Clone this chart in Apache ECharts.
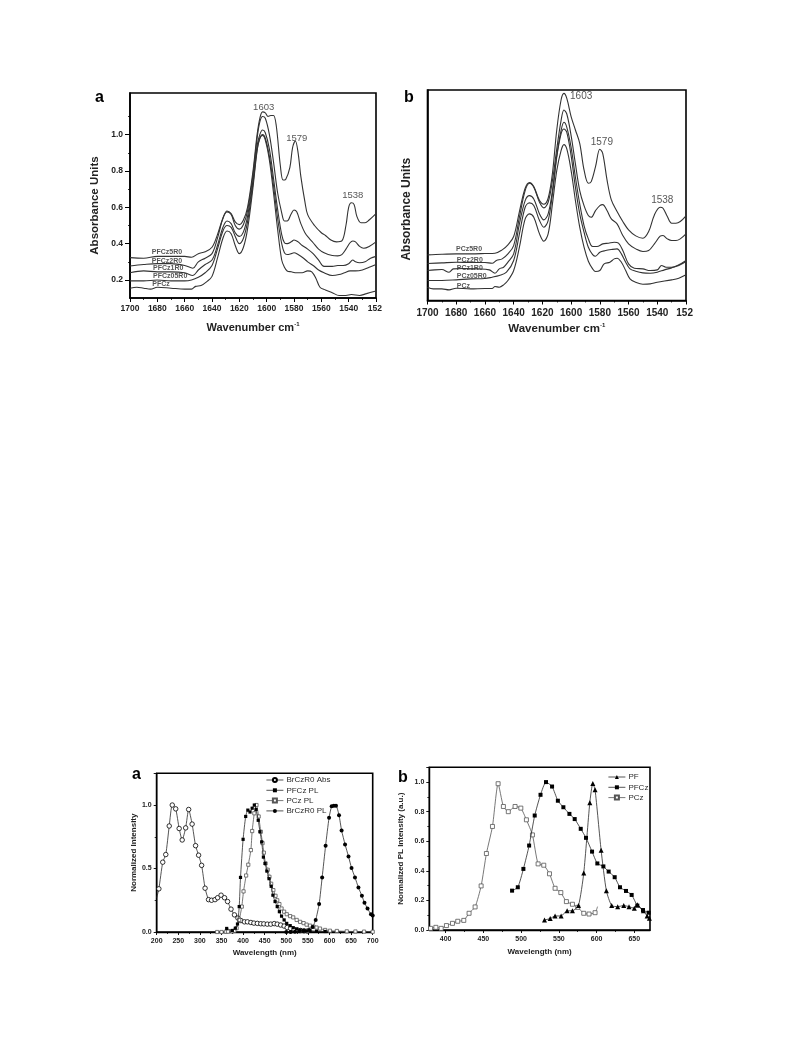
<!DOCTYPE html>
<html><head><meta charset="utf-8">
<style>html,body{margin:0;padding:0;background:#fff}#c{width:793px;height:1057px}</style>
<script src="https://cdn.jsdelivr.net/npm/echarts@6/dist/echarts.min.js"></script>
</head><body><div id="c"></div>
<script>
// ---- FTIR panel a
const irA5=[[1700,.323],[1690,.32],[1680,.33],[1670,.33],[1660,.33],[1655,.325],[1650,.345],[1645,.355],[1640,.38],[1636,.45],[1632,.54],[1629,.58],[1626,.565],[1623,.52],[1620,.505],[1617,.53],[1614,.60],[1610,.80],[1607,1.0],[1605,1.09],[1603,1.125],[1601,1.12],[1599,1.10],[1597,1.105],[1595,1.105],[1593,1.05],[1590,.83],[1588,.75],[1586,.755],[1583,.82],[1581,.93],[1579,.965],[1577,.9],[1575,.77],[1572,.63],[1570,.56],[1565,.50],[1560,.46],[1557,.445],[1553,.42],[1549,.41],[1545,.415],[1542,.50],[1540,.60],[1538,.625],[1536,.615],[1534,.55],[1531,.515],[1528,.515],[1525,.53],[1520,.565]];
const irA2=[[1700,.277],[1690,.285],[1680,.29],[1670,.29],[1660,.28],[1654,.265],[1650,.30],[1645,.32],[1640,.345],[1636,.43],[1632,.54],[1629,.575],[1626,.56],[1623,.50],[1620,.48],[1617,.505],[1614,.58],[1610,.78],[1607,.98],[1605,1.07],[1603,1.10],[1601,1.09],[1598,1.0],[1595,.85],[1592,.68],[1589,.57],[1587,.525],[1585,.525],[1582,.565],[1580,.585],[1578,.575],[1575,.51],[1572,.46],[1569,.43],[1566,.405],[1562,.37],[1558,.35],[1552,.335],[1548,.333],[1545,.34],[1542,.37],[1539,.405],[1537,.415],[1535,.41],[1532,.385],[1529,.375],[1525,.385],[1520,.41]];
const irA1=[[1700,.24],[1690,.25],[1680,.245],[1670,.245],[1660,.24],[1654,.225],[1650,.255],[1645,.285],[1640,.31],[1636,.39],[1632,.49],[1629,.525],[1626,.51],[1623,.46],[1620,.44],[1617,.465],[1614,.55],[1610,.75],[1607,.94],[1605,1.0],[1603,1.025],[1601,1.01],[1598,.92],[1595,.76],[1592,.59],[1589,.45],[1587,.405],[1585,.40],[1582,.41],[1580,.42],[1577,.41],[1574,.39],[1570,.37],[1566,.345],[1562,.31],[1558,.275],[1552,.275],[1548,.28],[1544,.28],[1540,.29],[1537,.31],[1535,.30],[1532,.295],[1528,.30],[1524,.32],[1520,.33]];
const irA05=[[1700,.195],[1690,.195],[1680,.20],[1670,.195],[1660,.195],[1655,.20],[1650,.215],[1645,.24],[1640,.28],[1636,.37],[1632,.47],[1629,.50],[1626,.49],[1623,.44],[1620,.40],[1617,.43],[1614,.52],[1610,.73],[1607,.92],[1605,.98],[1603,1.00],[1601,.98],[1598,.88],[1595,.72],[1592,.54],[1589,.40],[1587,.35],[1585,.34],[1582,.345],[1580,.35],[1577,.34],[1573,.32],[1570,.30],[1566,.28],[1562,.255],[1558,.24],[1552,.225],[1547,.23],[1543,.24],[1539,.25],[1535,.25],[1530,.255],[1525,.27],[1520,.285]];
const irA0=[[1700,.155],[1695,.16],[1690,.155],[1685,.15],[1680,.16],[1670,.155],[1660,.15],[1655,.15],[1652,.165],[1648,.17],[1644,.19],[1640,.22],[1636,.32],[1632,.43],[1629,.47],[1626,.455],[1623,.39],[1620,.345],[1617,.38],[1614,.48],[1610,.71],[1607,.91],[1605,.98],[1603,.995],[1601,.97],[1598,.86],[1595,.68],[1592,.48],[1589,.31],[1587,.27],[1585,.25],[1582,.245],[1578,.24],[1574,.24],[1570,.25],[1567,.245],[1564,.21],[1561,.16],[1557,.145],[1552,.13],[1547,.115],[1542,.115],[1538,.12],[1532,.115],[1527,.125],[1520,.14]];
// ---- FTIR panel b
const irB5=[[1700,1.37],[1690,1.39],[1680,1.40],[1670,1.40],[1660,1.41],[1653,1.42],[1648,1.52],[1644,1.67],[1640,1.92],[1636,2.67],[1632,3.37],[1629,3.54],[1626,3.42],[1622,3.0],[1619,2.89],[1616,3.07],[1613,3.82],[1610,5.12],[1607,6.02],[1605,6.22],[1603,6.07],[1600,5.52],[1597,5.12],[1594,4.72],[1591,3.92],[1588,3.52],[1586,3.57],[1583,4.02],[1580,4.54],[1578,4.42],[1575,3.62],[1572,3.02],[1568,2.67],[1564,2.37],[1560,2.12],[1555,1.94],[1550,1.87],[1546,2.07],[1542,2.57],[1538,2.8],[1536,2.77],[1533,2.52],[1530,2.32],[1527,2.32],[1524,2.37],[1520,2.54]];
const irB2=[[1700,1.11],[1690,1.13],[1680,1.15],[1670,1.14],[1660,1.14],[1655,1.12],[1652,1.2],[1648,1.25],[1644,1.4],[1640,1.65],[1636,2.5],[1632,3.3],[1629,3.52],[1626,3.4],[1622,2.95],[1619,2.78],[1616,2.95],[1613,3.6],[1610,4.55],[1607,5.4],[1605,5.72],[1603,5.6],[1600,4.95],[1597,4.1],[1594,3.3],[1591,2.85],[1588,2.55],[1586,2.5],[1583,2.7],[1580,2.85],[1578,2.88],[1575,2.7],[1572,2.45],[1568,2.3],[1564,1.95],[1560,1.7],[1555,1.55],[1550,1.47],[1546,1.5],[1542,1.7],[1538,1.93],[1536,1.95],[1533,1.85],[1530,1.8],[1527,1.8],[1524,1.85],[1520,2.0]];
const irB1=[[1700,.9],[1695,.92],[1690,.93],[1685,.85],[1682,.95],[1675,.96],[1665,.95],[1657,.92],[1653,.82],[1650,.95],[1647,1.0],[1644,1.15],[1640,1.4],[1636,2.3],[1632,3.0],[1629,3.15],[1626,3.05],[1622,2.6],[1619,2.42],[1616,2.6],[1613,3.3],[1610,4.35],[1607,5.1],[1605,5.35],[1603,5.2],[1600,4.6],[1597,3.7],[1594,2.9],[1591,2.25],[1588,1.85],[1585,1.62],[1582,1.62],[1578,1.7],[1574,1.72],[1570,1.75],[1567,1.72],[1564,1.5],[1560,1.1],[1556,.97],[1550,.95],[1545,.9],[1540,.92],[1537,1.05],[1534,1.0],[1530,1.0],[1525,1.07],[1520,1.2]];
const irB05=[[1700,.6],[1690,.6],[1680,.62],[1670,.65],[1660,.66],[1655,.7],[1650,.75],[1645,.85],[1640,1.2],[1636,2.0],[1632,2.8],[1629,2.93],[1626,2.85],[1622,2.4],[1619,2.2],[1616,2.4],[1613,3.2],[1610,4.3],[1607,5.0],[1605,5.15],[1603,5.05],[1600,4.35],[1597,3.4],[1594,2.6],[1591,2.05],[1588,1.6],[1585,1.38],[1583,1.33],[1580,1.45],[1576,1.5],[1572,1.53],[1568,1.55],[1565,1.4],[1562,1.15],[1559,.95],[1555,.88],[1550,.83],[1545,.82],[1540,.85],[1535,.92],[1530,.98],[1525,1.05],[1520,1.17]];
const irB0=[[1700,.4],[1696,.35],[1690,.35],[1685,.32],[1680,.37],[1670,.35],[1660,.36],[1655,.36],[1653,.42],[1650,.4],[1647,.47],[1644,.6],[1640,.9],[1636,1.6],[1632,2.45],[1629,2.6],[1626,2.5],[1622,2.0],[1619,1.78],[1616,2.0],[1613,2.9],[1610,3.9],[1607,4.5],[1605,4.68],[1603,4.55],[1600,3.9],[1597,3.0],[1594,2.2],[1591,1.6],[1588,1.18],[1585,.95],[1583,.87],[1580,.9],[1577,1.1],[1573,1.15],[1570,1.25],[1568,1.27],[1565,1.15],[1562,.9],[1559,.65],[1555,.55],[1550,.49],[1545,.5],[1540,.55],[1530,.62],[1525,.67],[1520,.77]];
// ---- PL panel a
const brAbs=[[200,.27],[205,.34],[214,.55],[221,.61],[229,.835],[236,1.0],[244,.97],[252,.815],[259,.725],[267,.82],[274,.965],[282,.85],[290,.68],[297,.605],[304,.525],[312,.345],[320,.255],[327,.25],[335,.255],[341,.27],[349,.29],[357,.27],[364,.24],[372,.18],[380,.135],[388,.11],[395,.09],[403,.08],[410,.08],[418,.075],[425,.07],[433,.068],[441,.065],[448,.064],[456,.062],[464,.062],[472,.066],[479,.062],[487,.055],[495,.047],[502,.035],[510,.028],[518,.02],[526,.015],[533,.012],[541,.01],[549,.008]];
const pfczPL=[[362,.028],[375,.012],[382,.03],[387,.063],[391,.2],[394,.43],[400,.73],[406,.91],[411,.96],[416,.945],[421,.975],[426,1.0],[430,.965],[435,.88],[439,.79],[443,.71],[447,.59],[451,.54],[455,.48],[460,.42],[465,.36],[469,.29],[474,.24],[479,.2],[484,.16],[489,.125],[495,.095],[501,.068],[509,.05],[516,.034],[524,.024],[532,.016],[540,.01],[547,.008],[555,.01],[570,.006],[590,.004]];
const pczPL=[[340,0],[350,0],[360,.002],[365,.003],[375,.005],[380,.01],[385,.03],[391,.095],[397,.2],[401,.32],[407,.445],[412,.53],[418,.645],[421,.795],[426,.935],[431,1.0],[436,.91],[441,.79],[445,.70],[448,.625],[452,.54],[457,.49],[461,.435],[465,.38],[470,.33],[475,.285],[479,.25],[484,.22],[489,.185],[495,.16],[501,.14],[509,.125],[516,.115],[524,.095],[532,.08],[540,.07],[547,.058],[555,.05],[563,.042],[570,.035],[578,.027],[590,.016],[601,.01],[617,.008],[640,.005],[660,.004],[680,.003],[700,.002]];
const brPL=[[500,0],[510,0],[520,.002],[530,.005],[540,.008],[553,.015],[561,.04],[568,.095],[576,.22],[583,.43],[591,.68],[599,.9],[605,.99],[610,.995],[615,.995],[622,.92],[628,.8],[636,.69],[644,.595],[651,.505],[659,.43],[667,.35],[675,.285],[681,.23],[688,.185],[696,.14],[700,.13]];
// ---- PL panel b
const pfB=[[531,.068],[538.5,.077],[545,.095],[553,.095],[561,.13],[568,.13],[576,.165],[583,.385],[591,.86],[595,.99],[598,.948],[606,.54],[613,.265],[620,.165],[628,.158],[636,.165],[643,.158],[650,.147],[654,.17],[662,.13],[667,.095],[670,.08]];
const pfczB=[[488,.266],[495.6,.289],[503,.413],[510.6,.571],[518,.774],[525.7,.914],[533,1.0],[541,.97],[548.7,.874],[556,.83],[564,.785],[571,.75],[579,.684],[586,.623],[594,.53],[601,.45],[609,.43],[616,.395],[624,.357],[631,.289],[639,.264],[646.5,.237],[654,.165],[661.5,.135],[669,.117]];
const pczB=[[380,.011],[387,.018],[394,.011],[401,.03],[409,.045],[416,.059],[424,.065],[431,.113],[439,.156],[447,.298],[454,.517],[462,.70],[469.5,.989],[476.5,.835],[483,.80],[492,.835],[499.6,.824],[507,.745],[515,.643],[522.5,.447],[530,.438],[537.6,.38],[545,.282],[552.6,.253],[560,.192],[568,.174],[575,.153],[583,.113],[590,.108],[598,.117],[601.3,.158]];
// ---- tick labels and annotations
const irTicks=['1700','1680','1660','1640','1620','1600','1580','1560','1540','152 '];
const peaksA=[[1602.2,1.152,'1603'],[1578,.98,'1579'],[1537,.667,'1538']];
const peaksB=[[1593,6.12,'1603'],[1578.6,4.75,'1579'],[1536.5,3.0,'1538']];
const tagsA=[[1684.4,.352,'PFCz5R0'],[1684.4,.305,'PFCz2R0'],[1683.5,.264,'PFCz1R0'],[1683.5,.222,'PFCz05R0'],[1684,.176,'PFCz']];
const tagsB=[[1680.5,1.54,'PCz5R0'],[1680,1.2,'PCz2R0'],[1680,.97,'PCz1R0'],[1680,.72,'PCz05R0'],[1680,.42,'PCz']];
const legendA=['BrCzR0 Abs','PFCz PL','PCz PL','BrCzR0 PL'];
const legendB=['PF','PFCz','PCz'];

const F='"Liberation Sans",Arial,sans-serif', INK='#222';
const grids=[
 {left:130,top:93,width:246,height:205},
 {left:427.5,top:90,width:258.5,height:210.5},
 {left:156.7,top:773.3,width:216,height:158.7},
 {left:429.3,top:767.3,width:220.7,height:162.7}
].map(g=>({...g,show:true,borderColor:'#000',borderWidth:1.6,backgroundColor:'transparent'}));

const lab=(size,extra)=>Object.assign({color:INK,fontFamily:F,fontWeight:'bold',fontSize:size},extra||{});
function irX(gridIndex,size,gap,nameSize,margin){return {
  type:'value',gridIndex,inverse:true,min:1520,max:1700,interval:20,position:'bottom',
  name:'{m|Wavenumber cm}{s|-1}',nameLocation:'middle',nameGap:gap,
  nameTextStyle:{rich:{m:lab(nameSize),s:lab(6,{verticalAlign:'top',lineHeight:nameSize+2})}},
  axisLine:{onZero:false,lineStyle:{color:'#000',width:1.6}},
  axisTick:{length:4,lineStyle:{color:'#000',width:1}},
  minorTick:{show:true,splitNumber:2,length:2,lineStyle:{color:'#000',width:.8}},
  splitLine:{show:false},minorSplitLine:{show:false},
  axisLabel:lab(size,{margin,hideOverlap:false,showMinLabel:true,showMaxLabel:true,formatter:v=>irTicks[Math.round((1700-v)/20)]})
};}
function plX(gridIndex,min,max,labels){return {
  type:'value',gridIndex,min,max,position:'bottom',
  name:'Wavelength (nm)',nameLocation:'middle',nameGap:18,nameTextStyle:lab(8),
  axisLine:{onZero:false,lineStyle:{color:'#000',width:1.3}},
  axisTick:{length:3,customValues:labels,lineStyle:{color:'#000',width:.9}},
  axisLabel:lab(7,{margin:6,customValues:labels}),
  splitLine:{show:false}
};}
function minorAxis(kind,gridIndex,min,max,vals){return {
  type:'value',gridIndex,min,max,position:kind==='x'?'bottom':'left',
  axisLine:{show:false},axisLabel:{show:false},splitLine:{show:false},
  axisTick:{length:2,customValues:vals,lineStyle:{color:'#000',width:.8}}
};}
const xAxis=[
 irX(0,8.5,23,11,6),
 irX(1,10,22,11.5,8),
 {...plX(2,200,700,[200,250,300,350,400,450,500,550,600,650,700]),interval:50,nameGap:17,minorTick:{show:true,splitNumber:2,length:2,lineStyle:{color:'#000',width:.8}},axisTick:{length:3,lineStyle:{color:'#000',width:.9}},axisLabel:lab(7,{margin:6})},
 plX(3,378.3,670.8,[400,450,500,550,600,650]),
 minorAxis('x',3,378.3,670.8,[425,475,525,575,625])
];
const yAxis=[
 {type:'value',gridIndex:0,min:.101,max:1.229,name:'Absorbance Units',nameLocation:'middle',nameGap:29,nameRotate:90,
  nameTextStyle:lab(11.5,{padding:[0,20,0,0]}),
  axisLine:{onZero:false,lineStyle:{color:'#000',width:1.6}},
  axisTick:{length:5,customValues:[.2,.4,.6,.8,1.0],lineStyle:{color:'#000',width:1}},
  axisLabel:lab(8.5,{margin:7,customValues:[.2,.4,.6,.8,1.0],formatter:v=>v.toFixed(1)}),splitLine:{show:false}},
 {type:'value',gridIndex:1,min:0,max:6.32,name:'Absorbance Units',nameLocation:'middle',nameGap:15,nameRotate:90,
  nameTextStyle:lab(12,{padding:[0,28,0,0]}),
  axisLine:{onZero:false,lineStyle:{color:'#000',width:1.6}},axisTick:{show:false},axisLabel:{show:false},splitLine:{show:false}},
 {type:'value',gridIndex:2,min:0,max:1.25,interval:.5,name:'Normalized Intensity',nameLocation:'middle',nameGap:17,nameRotate:90,
  nameTextStyle:lab(8),
  axisLine:{onZero:false,lineStyle:{color:'#000',width:1.3}},
  axisTick:{length:3,lineStyle:{color:'#000',width:.9}},
  minorTick:{show:true,splitNumber:2,length:2,lineStyle:{color:'#000',width:.8}},
  axisLabel:lab(7,{margin:5,showMaxLabel:false,formatter:v=>v.toFixed(1)}),splitLine:{show:false}},
 {type:'value',gridIndex:3,min:0,max:1.1,interval:.2,name:'Normalized PL Intensity (a.u.)',nameLocation:'middle',nameGap:25,nameRotate:90,
  nameTextStyle:lab(8),
  axisLine:{onZero:false,lineStyle:{color:'#000',width:1.3}},
  axisTick:{length:3,lineStyle:{color:'#000',width:.9}},
  minorTick:{show:true,splitNumber:2,length:2,lineStyle:{color:'#000',width:.8}},
  axisLabel:lab(7,{margin:5,showMaxLabel:false,formatter:v=>v.toFixed(1)}),splitLine:{show:false}},
 minorAxis('y',0,.101,1.229,[.3,.5,.7,.9,1.1])
];

const irLine=(name,data,i)=>({type:'line',name,xAxisIndex:i,yAxisIndex:i,data,smooth:.35,symbol:'none',silent:true,
  lineStyle:{color:'#333',width:1.1},z:2});
function notes(arr,i,style,pos){return {type:'scatter',name:'notes'+i+pos,xAxisIndex:i,yAxisIndex:i,silent:true,symbolSize:1,
  itemStyle:{color:'transparent'},data:arr.map(a=>({value:[a[0],a[1]],label:{formatter:a[2]}})),
  label:Object.assign({show:true,position:pos,distance:0,color:'#2a2a2a',fontFamily:F},style),z:5};}
function pl(name,data,i,symbol,size,filled,gray,bare){
  const last=data.length-1;
  return {type:'line',name,xAxisIndex:i,yAxisIndex:i,smooth:.2,symbol,symbolSize:size,showSymbol:true,silent:true,
  data:data.map((p,k)=>(bare==='first'&&k===0)||(bare==='last'&&k===last)?{value:p,symbol:'none'}:p),
  showAllSymbol:true,lineStyle:{color:gray?'#555':'#2a2a2a',width:.8},
  itemStyle:{color:filled?'#000':'#fff',borderColor:gray?'#555':'#000',borderWidth:filled?0:.8},z:filled?3:2};}

const series=[
 irLine('PFCz5R0 IR',irA5,0),irLine('PFCz2R0 IR',irA2,0),irLine('PFCz1R0 IR',irA1,0),irLine('PFCz05R0 IR',irA05,0),irLine('PFCz IR',irA0,0),
 irLine('PCz5R0 IR',irB5,1),irLine('PCz2R0 IR',irB2,1),irLine('PCz1R0 IR',irB1,1),irLine('PCz05R0 IR',irB05,1),irLine('PCz IR',irB0,1),
 notes(peaksA,0,{fontSize:9.5},'inside'),notes(peaksB,1,{fontSize:10},'inside'),
 notes(tagsA,0,{fontSize:7,fontWeight:'bold'},'right'),notes(tagsB,1,{fontSize:7,fontWeight:'bold'},'right'),
 pl(legendA[0],brAbs,2,'circle',4.5,false,false,'first'),
 pl(legendA[1],pfczPL,2,'rect',3.2,true,false),
 pl(legendA[2],pczPL,2,'rect',3.2,false,true),
 pl(legendA[3],brPL,2,'circle',4,true,false),
 pl(legendB[0],pfB,3,'triangle',5,true,false),
 pl(legendB[1],pfczB,3,'rect',4,true,false),
 pl(legendB[2],pczB,3,'rect',4,false,true,'last')
];
const leg=(data,left,top)=>({data,left,top,orient:'vertical',itemWidth:17,itemHeight:5,itemGap:2.3,selectedMode:false,padding:0,
  lineStyle:{width:.8},
  textStyle:{color:'#2a2a2a',fontFamily:F,fontSize:8,padding:[0,0,0,-2]}});
const letter=(text,left,top)=>({text,left,top,padding:0,textStyle:{color:'#000',fontFamily:F,fontWeight:'bold',fontSize:16}});

const chart=echarts.init(document.getElementById('c'),null,{renderer:'canvas'});
chart.setOption({
 animation:false,backgroundColor:'#fff',tooltip:{show:false},
 title:[letter('a',95,90),letter('b',404,90),letter('a',132,767),letter('b',398,770)],
 grid:grids,xAxis,yAxis,series,
 legend:[leg(legendA,266,776),leg(legendB,608,773)]
});
</script></body></html>
